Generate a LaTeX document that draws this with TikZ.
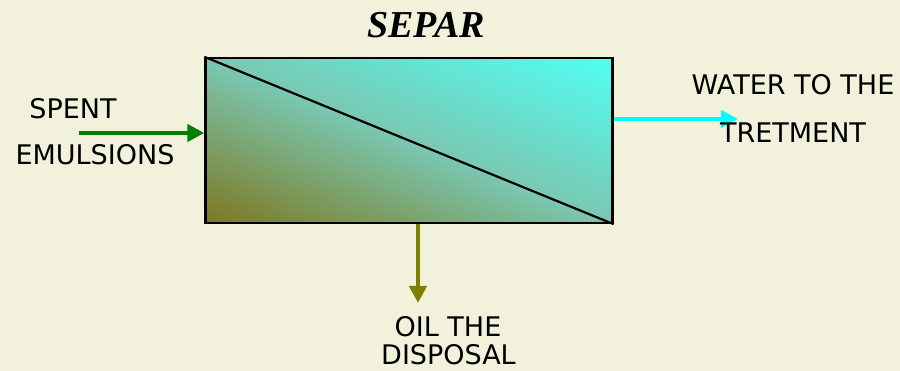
\documentclass[tikz,border=0pt]{standalone}
\usepackage{fontspec}
\setmainfont{DejaVu Sans}
\newfontfamily\titlefont{Liberation Serif}
\usetikzlibrary{arrows.meta}
\definecolor{bgC}{RGB}{242,241,220}
\definecolor{inC}{RGB}{0,128,0}
\definecolor{outC}{RGB}{0,255,255}
\definecolor{oilC}{RGB}{128,128,0}
% diagonal gradient: olive (bottom-left) -> teal (diagonal) -> cyan (top-right)
\pgfdeclarefunctionalshading{sepshade}{\pgfpoint{-50bp}{-50bp}}{\pgfpoint{50bp}{50bp}}{}{
  add 100 div 0.5 add
  dup 0 lt {pop 0} if dup 1 gt {pop 1} if
  dup 0.5 lt
  {2 mul dup -0.012 mul 0.490 add exch dup 0.314 mul 0.470 add exch 0.573 mul 0.125 add}
  {2 mul 1 sub dup -0.164 mul 0.478 add exch dup 0.216 mul 0.784 add exch 0.262 mul 0.698 add}
  ifelse
}
\tikzset{
  lbl/.style={inner sep=0pt, anchor=base, font=\fontsize{27}{31}\selectfont},
  flow/.style={line width=4.5pt, -{Triangle[length=17pt,width=17pt]}},
}
\begin{document}
\begin{tikzpicture}[x=1pt,y=-1pt]
\fill[bgC] (0,0) rectangle (900,371);
\useasboundingbox (0,0) rectangle (900,371);
\node[draw=black, line width=2.4pt, shading=sepshade, minimum width=407pt, minimum height=165pt, inner sep=0pt] (sep) at (409,140.5) {};
\draw[line width=2.2pt] (sep.north west) -- (sep.south east);
\node[inner sep=0pt, anchor=base, font=\titlefont\bfseries\itshape\fontsize{38}{42}\selectfont] (title) at (426,38) {SEPAR};
\coordinate (inStart) at (79,133);
\coordinate (outEnd) at (738,119);
\coordinate (oilEnd) at (418,303);
\draw[flow, draw=inC, color=inC] (inStart) -- (inStart -| sep.west);
\draw[flow, draw=outC, color=outC] (outEnd -| sep.east) -- (outEnd);
\draw[flow, draw=oilC, color=oilC] (oilEnd |- sep.south) -- (oilEnd);
\node[lbl] (spent) at (73,119) {SPENT};
\node[lbl] (emul) at (95,164.5) {EMULSIONS};
\node[lbl] (water) at (793,95) {WATER TO THE};
\node[lbl] (tret) at (793,143) {TRETMENT};
\node[lbl] (oil) at (448,337) {OIL THE};
\node[lbl] (disp) at (448.5,365) {DISPOSAL};
\end{tikzpicture}
\end{document}
